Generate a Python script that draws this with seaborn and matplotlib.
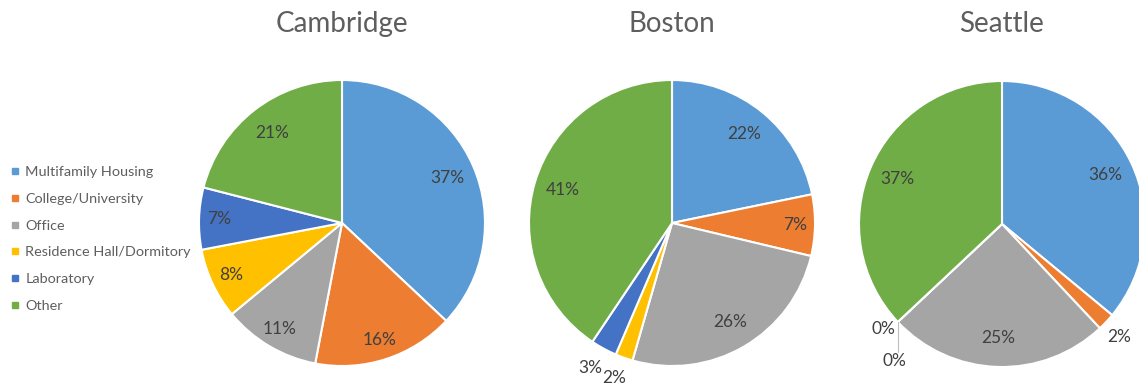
import numpy as np
import matplotlib
matplotlib.use("Agg")
import matplotlib.pyplot as plt
from matplotlib.lines import Line2D
import seaborn as sns

# Building types and share of each city's benchmarked floor area (%)
categories = ["Multifamily Housing", "College/University", "Office",
              "Residence Hall/Dormitory", "Laboratory", "Other"]
cities = ["Cambridge", "Boston", "Seattle"]
cambridge = [37, 16, 11, 8, 7, 21]
boston = [22, 7, 26, 2, 3, 41]
seattle = [36, 2, 25, 0, 0, 37]
city_values = [cambridge, boston, seattle]

sns.set_theme(style="white")
plt.rcParams["font.family"] = ["Lato", "DejaVu Sans"]
palette = sns.color_palette(["#5B9BD5", "#ED7D31", "#A5A5A5",
                             "#FFC000", "#4472C4", "#70AD47"])

W, H = 1139, 385
fig = plt.figure(figsize=(W / 100, H / 100), dpi=100)
fig.patch.set_facecolor("white")

R = 143                                        # pie radius in pixels
centers = [(342, 223), (672, 223), (1002, 224)]
title_y = 24
label_color = "#404040"
title_color = "#5E5E5E"

# offsets (pie units) for labels of empty slices, relative to the slice edge
zero_offsets = [(-0.10, -0.04), (-0.02, -0.26)]

for city, vals, (cx, cy) in zip(cities, city_values, centers):
    ax = fig.add_axes([(cx - R) / W, (H - cy - R) / H, 2 * R / W, 2 * R / H])
    wedges, _ = ax.pie(vals, colors=palette, startangle=90, counterclock=False,
                       radius=1,
                       wedgeprops=dict(edgecolor="white", linewidth=1.5))
    for w in wedges:
        w.set_clip_on(False)
    ax.set_xlim(-1, 1)
    ax.set_ylim(-1, 1)
    ax.set_aspect("equal")
    ax.axis("off")

    zero_i = 0
    for w, v in zip(wedges, vals):
        theta = np.deg2rad((w.theta1 + w.theta2) / 2)
        c, s = np.cos(theta), np.sin(theta)
        txt = f"{v}%"
        if v >= 5:
            d = 0.80 if v >= 20 else 0.86
            ax.text(d * c, d * s, txt, ha="center", va="center",
                    fontsize=12.5, color=label_color, clip_on=False)
        elif v > 0:
            d = 1.15
            ax.text(d * c - 0.02, d * s, txt, ha="center", va="center",
                    fontsize=12.5, color=label_color, clip_on=False)
        else:
            ex, ey = c, s
            dx, dy = zero_offsets[zero_i]
            ha = "right" if zero_i == 0 else "center"
            ax.text(ex + dx + (0.08 if zero_i == 0 else 0), ey + dy - 0.01, txt,
                    ha=ha, va="center", fontsize=12.5, color=label_color,
                    clip_on=False)
            if zero_i == 0:
                ax.plot([ex, ex], [ey, ey - 0.21], color="#BFBFBF",
                        linewidth=0.8, clip_on=False)
            zero_i += 1

    fig.text(cx / W, 1 - title_y / H, city, ha="center", va="center",
             fontsize=20, color=title_color)

handles = [Line2D([0], [0], marker="s", linestyle="none", markersize=4,
                  markerfacecolor=col, markeredgecolor=col) for col in palette]
leg = fig.legend(handles, categories, loc="center left",
                 bbox_to_anchor=(5 / W, (H - 239) / H), frameon=False,
                 fontsize=10.4, labelspacing=1.02, handlelength=0.6,
                 handletextpad=0.4, borderaxespad=0)
for t in leg.get_texts():
    t.set_color(title_color)

fig.savefig("out.png", dpi=100, facecolor="white")
